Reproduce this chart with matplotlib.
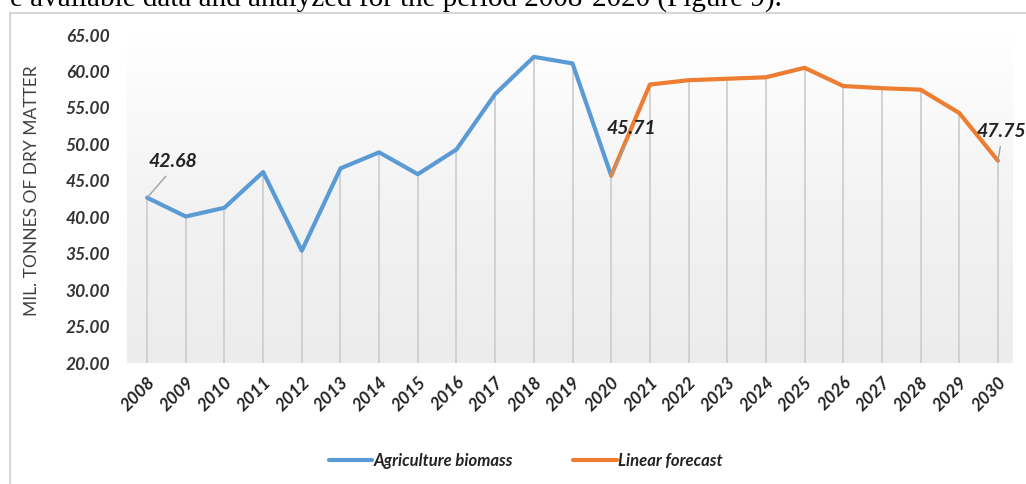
import numpy as np
import matplotlib.pyplot as plt
from matplotlib.lines import Line2D

# agricultural biomass, mil. tonnes of dry matter
hist_years = [2008, 2009, 2010, 2011, 2012, 2013, 2014, 2015, 2016, 2017, 2018, 2019, 2020]
hist_values = [42.68, 40.1, 41.3, 46.2, 35.4, 46.7, 48.9, 45.9, 49.3, 56.9, 62.0, 61.1, 45.71]

fc_years = [2020, 2021, 2022, 2023, 2024, 2025, 2026, 2027, 2028, 2029, 2030]
fc_values = [45.71, 58.2, 58.8, 59.0, 59.2, 60.5, 58.0, 57.7, 57.5, 54.3, 47.75]

y_ticks = [20, 25, 30, 35, 40, 45, 50, 55, 60, 65]

BLUE = '#5b9bd5'
ORANGE = '#ed7d31'
TICK_FONT = dict(family='Lato', weight='bold', style='italic')

W, H = 1026, 484
fig = plt.figure(figsize=(W / 100, H / 100), dpi=100)

# plot area in pixel terms
left, right, top, bottom = 127, 1013, 35, 363
ax = fig.add_axes([left / W, 1 - bottom / H, (right - left) / W, (bottom - top) / H])
x0, x1 = 2007.48, 2030.39

# light vertical gradient behind the plot
grad = np.linspace(0, 1, 256).reshape(-1, 1)
ax.imshow(grad, extent=[x0, x1, 20, 65], aspect='auto',
          cmap=plt.matplotlib.colors.LinearSegmentedColormap.from_list(
              'bg', ['#ececec', '#f3f3f3', '#ffffff']),
          origin='lower', zorder=0)

# drop lines from each point to the floor
all_years = hist_years + fc_years[1:]
all_values = hist_values + fc_values[1:]
ax.vlines(all_years, 20, all_values, color='#cfcfcf', lw=1.3, zorder=1)

ax.plot(hist_years, hist_values, color=BLUE, lw=3, solid_capstyle='round', zorder=3,
        label='Agriculture biomass')
ax.plot(fc_years, fc_values, color=ORANGE, lw=3, solid_capstyle='round', zorder=3,
        label='Linear forecast')

# value callouts with leader lines: (x, value, label position, leader attach point)
callouts = [(2008, hist_values[0], (2008.05, 47.6), (0.45, 0)),
            (2020, hist_values[-1], (2019.89, 52.2), (0.45, 0)),
            (2030, fc_values[-1], (2029.45, 51.8), (0.5, 0))]
for x, v, (tx, ty), rp in callouts:
    ax.annotate(f'{v:.2f}', xy=(x, v), xytext=(tx, ty), fontsize=14, color='#222222',
                ha='left', va='center', annotation_clip=False, **TICK_FONT,
                arrowprops=dict(arrowstyle='-', color='#a0a0a0', lw=1,
                                shrinkA=3, shrinkB=0, relpos=rp))

ax.set_xlim(x0, x1)
ax.set_ylim(20, 65)
ax.set_yticks(y_ticks)
ax.set_yticklabels([f'{t:.2f}' for t in y_ticks], fontsize=12.5, color='#333333', **TICK_FONT)
ax.set_xticks(all_years)
ax.set_xticklabels([str(y) for y in all_years], fontsize=12.5, color='#222222',
                   rotation=45, ha='right', rotation_mode='anchor', **TICK_FONT)
ax.tick_params(axis='y', length=0, pad=12)
ax.tick_params(axis='x', length=0, pad=8)
for s in ax.spines.values():
    s.set_visible(False)

fig.text(32 / W, 1 - 191 / H, 'MIL. TONNES OF DRY MATTER', rotation=90, ha='center',
         va='center', fontsize=12.5, color='#404040', family='Lato')

leg = fig.legend(loc='center', bbox_to_anchor=(526 / W, 1 - 461 / H), ncol=2, frameon=False,
                 handlelength=2.6, handletextpad=0.1, columnspacing=3.6,
                 prop=dict(size=12, **TICK_FONT))
for t in leg.get_texts():
    t.set_color('#222222')

# page frame and the line of body text above the chart
fig.add_artist(Line2D([10 / W, 10 / W], [0, 1 - 13 / H], color='#d0d0d0', lw=1.2))
fig.add_artist(Line2D([10 / W, 1], [1 - 13 / H, 1 - 13 / H], color='#d0d0d0', lw=1.2))
fig.text(10 / W, 1 - 7 / H, 'e available data and analyzed for the period 2008-2020 (Figure 9).',
         ha='left', va='baseline', fontsize=21, family='Liberation Serif', color='black')

fig.savefig('out.png', dpi=100)
